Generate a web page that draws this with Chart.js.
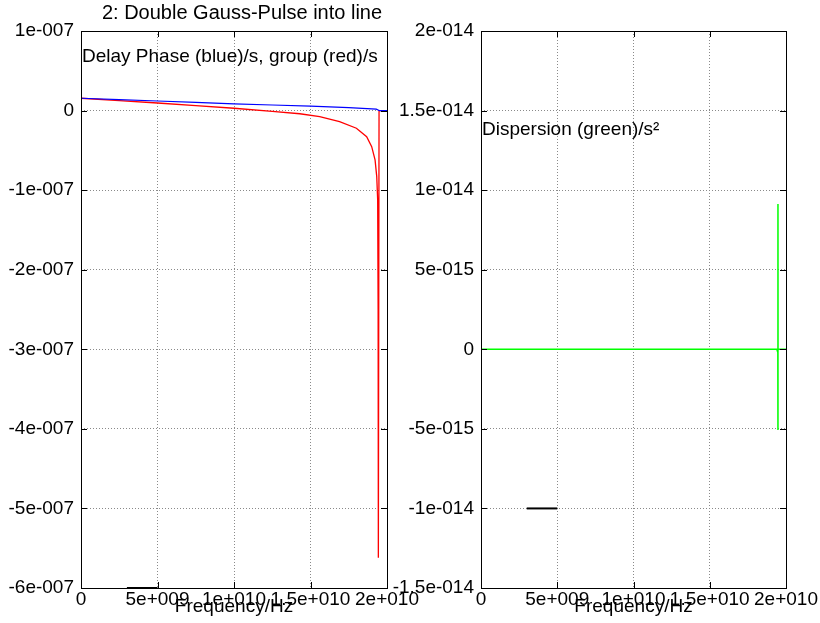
<!DOCTYPE html>
<html><head><meta charset="utf-8">
<script src="https://cdn.jsdelivr.net/npm/chart.js@4.4.0/dist/chart.umd.min.js"></script>
<style>
html,body{margin:0;padding:0;background:#fff;}
#wrap{position:relative;width:820px;height:623px;overflow:hidden;}
canvas{position:absolute;left:0;top:0;}
</style></head><body>
<div id="wrap"><canvas id="c2" width="820" height="623"></canvas><canvas id="c1" width="820" height="623"></canvas></div>
<script>
// ---- tick values ----
const freqTicks = [0, 5e9, 1e10, 1.5e10, 2e10];
const delayTicks = [1e-7, 0, -1e-7, -2e-7, -3e-7, -4e-7, -5e-7, -6e-7];
const dispTicks = [2e-14, 1.5e-14, 1e-14, 5e-15, 0, -5e-15, -1e-14, -1.5e-14];

// ---- phase delay (blue) ----
const phaseFreq  = [0, 2.5e9, 5e9, 7.5e9, 1e10, 1.25e10, 1.5e10, 1.75e10, 1.93e10, 1.945e10, 1.95e10, 2e10];
const phaseDelay = [1.55e-8, 1.38e-8, 1.2e-8, 1.02e-8, 0.84e-8, 0.7e-8, 0.56e-8, 0.38e-8, 0.18e-8, 0.05e-8, 0, 0];

// ---- group delay (red) ----
const groupFreq  = [0, 2.5e9, 5e9, 7.5e9, 1e10, 1.25e10, 1.43e10, 1.56e10, 1.69e10, 1.8e10, 1.867e10, 1.9e10, 1.922e10, 1.933e10, 1.939e10, 1.942e10, 1.9435e10, 1.948e10, 2e10];
const groupDelay = [1.55e-8, 1.25e-8, 0.95e-8, 0.63e-8, 0.29e-8, -0.1e-8, -0.4e-8, -0.77e-8, -1.39e-8, -2.22e-8, -3.28e-8, -4.54e-8, -6.2e-8, -8.3e-8, -1.12e-7, -2.5e-7, -5.62e-7, 0, 0];

// ---- dispersion (green) ----
const dispFreq  = [0, 1.94e10, 1.9465e10, 1.9472e10, 1.9474e10, 1.9476e10, 2e10];
const dispValue = [0, 0, -2e-16, -5.07e-15, 9.13e-15, 0, 0];

// ---- short black marker segments ----
const markerFreq  = [3e9, 5e9];
const markerDelay = [-6e-7, -6e-7];
const markerDisp  = [-1e-14, -1e-14];

const FONT = "'Liberation Sans', Arial, sans-serif";
const pts = (xs, ys) => xs.map((x, i) => ({x: x, y: ys[i]}));
const fmt = v => {
  if (Math.abs(v) < 1e-30) return '0';
  const s = Number(Number(v).toPrecision(6)).toExponential();
  return s.replace(/e([+-])(\d+)/, (m, sg, d) => 'e' + sg + d.padStart(3, '0'));
};

const textPlugin = {
  id: 'texts',
  afterDraw(chart, args, opts) {
    const ctx = chart.ctx, a = chart.chartArea;
    ctx.save();
    ctx.fillStyle = '#000';
    ctx.textBaseline = 'middle';
    (opts.items || []).forEach(t => {
      ctx.font = t.size + 'px ' + FONT;
      ctx.textAlign = t.align;
      const x = t.x === 'center' ? (a.left + a.right) / 2 : t.x;
      ctx.fillText(t.text, x, t.y);
    });
    ctx.restore();
  }
};

const framePlugin = {
  id: 'frame',
  afterDatasetsDraw(chart) {
    const ctx = chart.ctx, a = chart.chartArea, xs = chart.scales.x, ys = chart.scales.y;
    ctx.save();
    ctx.strokeStyle = '#000';
    ctx.lineWidth = 1;
    ctx.beginPath();
    const L = 6;
    xs.ticks.forEach(t => {
      const p = Math.round(xs.getPixelForValue(t.value)) + 0.5;
      ctx.moveTo(p, a.bottom); ctx.lineTo(p, a.bottom - L);
      ctx.moveTo(p, a.top); ctx.lineTo(p, a.top + L);
    });
    ys.ticks.forEach(t => {
      const p = Math.round(ys.getPixelForValue(t.value)) + 0.5;
      ctx.moveTo(a.left, p); ctx.lineTo(a.left + L, p);
      ctx.moveTo(a.right, p); ctx.lineTo(a.right - L, p);
    });
    ctx.stroke();
    ctx.strokeRect(a.left + 0.5, a.top + 0.5, a.right - a.left, a.bottom - a.top);
    ctx.restore();
  }
};

function axisX() {
  return {
    type: 'linear', min: 0, max: 2e10,
    afterBuildTicks: s => { s.ticks = freqTicks.map(v => ({value: v})); },
    afterFit: s => { s.height = 35; },
    grid: {color: '#8a8a8a', lineWidth: 1, drawTicks: false},
    border: {display: false, dash: [1, 2]},
    ticks: {autoSkip: false, maxRotation: 0, minRotation: 0, padding: 0, color: '#000',
            font: {family: FONT, size: 19}, callback: fmt}
  };
}
function axisY(min, max, tickArr, width) {
  return {
    type: 'linear', min: min, max: max,
    afterBuildTicks: s => { s.ticks = tickArr.map(v => ({value: v})); },
    afterFit: s => { s.width = width; },
    grid: {color: '#8a8a8a', lineWidth: 1, drawTicks: false},
    border: {display: false, dash: [1, 2]},
    ticks: {autoSkip: false, padding: 7, color: '#000', font: {family: FONT, size: 19}, callback: fmt}
  };
}

new Chart(document.getElementById('c1'), {
  type: 'line',
  data: {
    datasets: [
      {label: 'Phase delay', data: pts(phaseFreq, phaseDelay), borderColor: '#0000ff', borderWidth: 1.2, pointRadius: 0},
      {label: 'Group delay', data: pts(groupFreq, groupDelay), borderColor: '#ff0000', borderWidth: 1.3, pointRadius: 0},
      {label: 'marker', data: pts(markerFreq, markerDelay), borderColor: '#000', borderWidth: 2, pointRadius: 0, clip: false}
    ]
  },
  options: {
    responsive: false, animation: false, devicePixelRatio: 1,
    layout: {padding: {left: 0, top: 31, right: 433, bottom: 0}},
    elements: {line: {tension: 0}},
    plugins: {
      legend: {display: false}, tooltip: {enabled: false},
      texts: {items: [
        {text: '2: Double Gauss-Pulse into line', x: 242, y: 13, size: 20, align: 'center'},
        {text: 'Delay Phase (blue)/s, group (red)/s', x: 82, y: 57, size: 19, align: 'left'},
        {text: 'Frequency/Hz', x: 'center', y: 607, size: 19, align: 'center'}
      ]}
    },
    scales: {x: axisX(), y: axisY(-6e-7, 1e-7, delayTicks, 81)}
  },
  plugins: [framePlugin, textPlugin]
});

new Chart(document.getElementById('c2'), {
  type: 'line',
  data: {
    datasets: [
      {label: 'Dispersion', data: pts(dispFreq, dispValue), borderColor: '#00ff00', borderWidth: 1.5, pointRadius: 0},
      {label: 'marker', data: pts(markerFreq, markerDisp), borderColor: '#000', borderWidth: 2, pointRadius: 0, clip: false}
    ]
  },
  options: {
    responsive: false, animation: false, devicePixelRatio: 1,
    layout: {padding: {left: 0, top: 31, right: 34, bottom: 0}},
    elements: {line: {tension: 0}},
    plugins: {
      legend: {display: false}, tooltip: {enabled: false},
      texts: {items: [
        {text: 'Dispersion (green)/s\u00B2', x: 482, y: 130, size: 19, align: 'left'},
        {text: 'Frequency/Hz', x: 'center', y: 607, size: 19, align: 'center'}
      ]}
    },
    scales: {x: axisX(), y: axisY(-1.5e-14, 2e-14, dispTicks, 481)}
  },
  plugins: [framePlugin, textPlugin]
});
</script>
</body></html>
